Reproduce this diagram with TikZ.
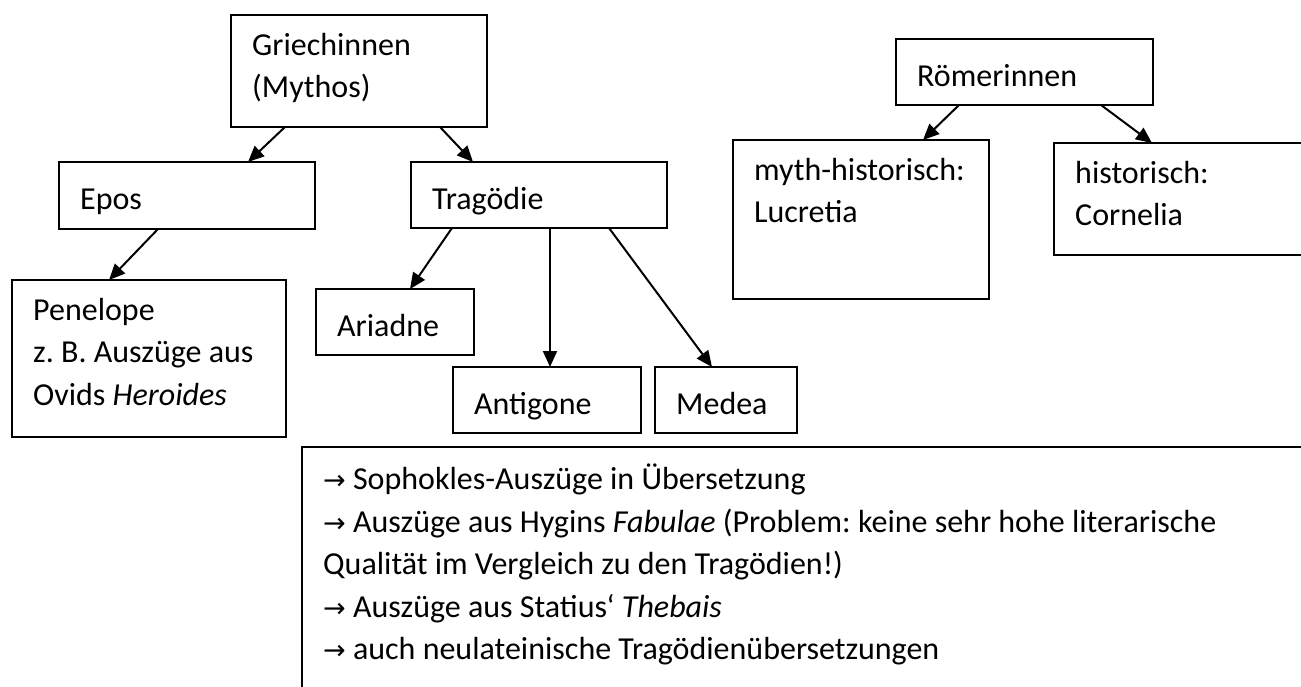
\documentclass[tikz,border=0pt]{standalone}
\usepackage{fontspec}
\setmainfont{Carlito}
\newfontfamily\pfeilfont{DejaVu Sans}
\usetikzlibrary{arrows.meta}
\frenchspacing

\newcommand{\pf}{{\pfeilfont\fontsize{27}{42}\selectfont →}}

\begin{document}
\begin{tikzpicture}[x=1pt,y=-1pt]
\tikzstyle{box} = [draw, line width=2pt, rectangle, inner sep=0, outer sep=0, anchor=north west]
\tikzstyle{txt} = [anchor=north west, inner sep=0, align=left, font=\fontsize{32}{42.5}\selectfont,
                   execute at begin node=\strut]
\tikzstyle{arr} = [line width=2pt, -{Triangle[length=16pt,width=14pt]}]

\useasboundingbox (0,0) rectangle (1301,687);
\clip (0,0) rectangle (1301,687);

% Kaesten: name/x/y/breite/hoehe
\foreach \name/\x/\y/\w/\h in {griech/231/15/256/112, epos/59/162/256/67,
    trag/411/162/256/66, pene/12/280/274/157, ariad/316/289/158/66,
    antig/453/367/188/66, medea/655/367/142/66, roem/896/39/257/66,
    myth/733/140/256/159, hist/1054/143/300/112, quellen/302/447/1100/300} {
  \node[box, minimum width=\w, minimum height=\h] (\name) at (\x,\y) {};
}

% Texte (erste Grundlinie etwa 45 unter der Oberkante)
\foreach \name/\t in {griech/{Griechinnen\\(Mythos)}, epos/Epos, trag/Tragödie,
    pene/{Penelope\\z. B. Auszüge aus\\Ovids \textit{Heroides}},
    ariad/Ariadne, antig/Antigone, medea/Medea, roem/Römerinnen,
    myth/{myth-historisch:\\Lucretia}, hist/{historisch:\\Cornelia}} {
  \node[txt] (\name-t) at ([shift={(21,18)}]\name.north west) {\t};
}

\node[txt] (quellen-t) at ([shift={(21,17)}]quellen.north west)
  {\pf{} Sophokles-Auszüge in Übersetzung\\
   \pf{} Auszüge aus Hygins \textit{Fabulae} (Problem: keine sehr hohe literarische\\
   Qualität im Vergleich zu den Tragödien!)\\
   \pf{} Auszüge aus Statius‘ \textit{Thebais}\\
   \pf{} auch neulateinische Tragödienübersetzungen};

% --- Pfeile ---------------------------------------------------------
\draw[arr] ([xshift=54]griech.south west) -- ([xshift=189]epos.north west);
\draw[arr] ([xshift=209]griech.south west) -- ([xshift=62]trag.north west);
\draw[arr] ([xshift=99]epos.south west) -- ([xshift=97]pene.north west);

% Tragoedie -> Figuren
\draw[arr] ([xshift=41]trag.south west) -- ([xshift=94]ariad.north west);
\draw[arr] ([xshift=139]trag.south west) -- ([xshift=97]antig.north west);
\draw[arr] ([xshift=198]trag.south west) -- ([xshift=57]medea.north west);

% Roemerinnen
\draw[arr] ([xshift=63]roem.south west) -- ([xshift=190]myth.north west);
\draw[arr] ([xshift=205]roem.south west) -- ([xshift=98]hist.north west);

\end{tikzpicture}
\end{document}
